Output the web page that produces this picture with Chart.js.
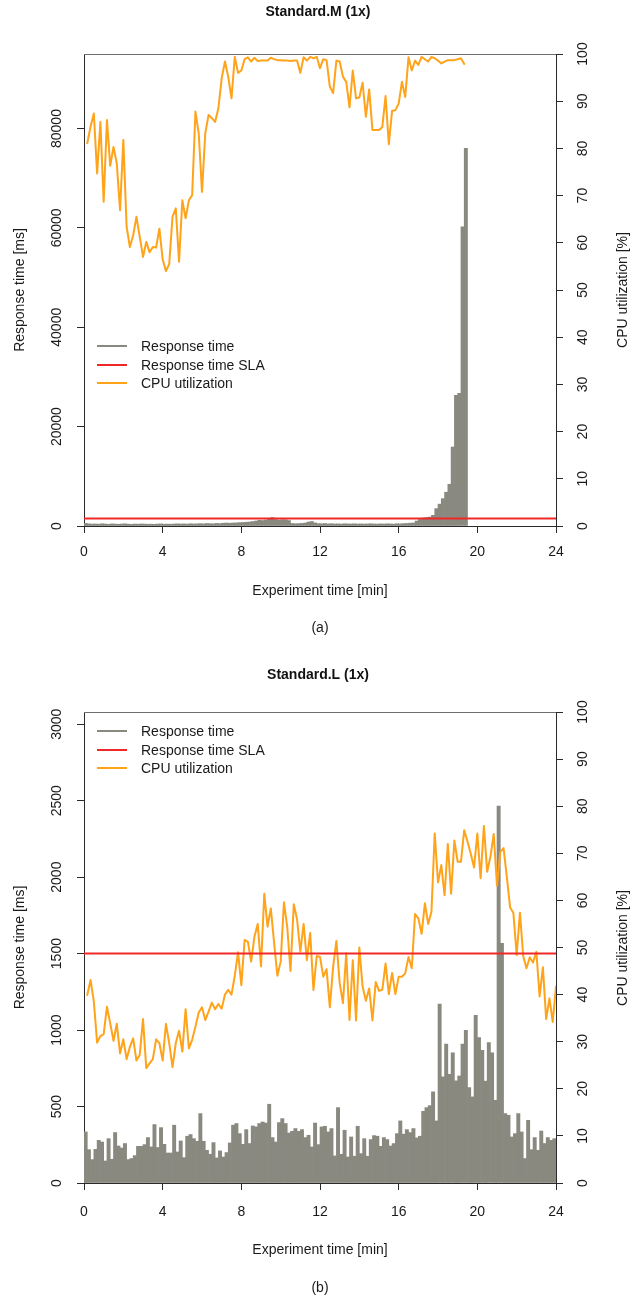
<!DOCTYPE html>
<html><head><meta charset="utf-8">
<script src="https://cdn.jsdelivr.net/npm/chart.js@4/dist/chart.umd.min.js"></script>
<style>
body{margin:0;background:#fff;}
#wrap{position:relative;width:636px;height:1295px;font-family:"Liberation Sans",Arial,Helvetica,sans-serif;color:#1a1a1a;overflow:hidden;}
canvas{position:absolute;left:0;}
.t{position:absolute;font-size:14px;line-height:16px;white-space:nowrap;}
.ln{position:absolute;height:2px;}
</style></head><body>
<div id="wrap">
<canvas id="cA" width="636" height="648" style="top:0px"></canvas>
<canvas id="cB" width="636" height="647" style="top:648px"></canvas>
</div>
<script>
// ---------- data ----------
const sampleSec = 10;                 // one sample every 10 s
const xTicks = [0, 4, 8, 12, 16, 20, 24];
const yTicksA = [0, 20000, 40000, 60000, 80000];
const yTicksB = [0, 500, 1000, 1500, 2000, 2500, 3000];
const cpuTicks = [0, 10, 20, 30, 40, 50, 60, 70, 80, 90, 100];
const slaMs = 1500;
const legendLabels = ['Response time', 'Response time SLA', 'CPU utilization'];
const titles = ['Standard.M (1x)', 'Standard.L (1x)'];
const captions = ['(a)', '(b)'];

// Standard.M : response time [ms] per 10 s interval
const respA = [
 520,430,380,410,360,450,400,330,420,380,
 350,400,440,370,330,390,360,410,380,350,
 370,340,390,420,360,380,350,400,430,390,
 420,380,450,400,430,470,420,500,460,440,
 520,480,560,600,
 550,600,620,680,700,750,800,900,1000,1150,1100,1200,1350,1700,1300,1200,1250,1250,1100,
 500,450,480,520,600,800,900,620,480,450,
 500,420,460,400,430,380,450,420,400,440,390,420,380,410,450,400,380,420,390,440,410,380,450,420,480,500,560,600,
 1000,1300,1600,1700,1800,2150,3500,4400,5500,6800,8400,15900,26300,26700,60200,76000
];
// Standard.M : CPU utilization [%]
const cpuA = [
 81.1,84.6,87.4,74.7,85.6,68.7,86,76.3,80.3,76.8,
 66.9,81.8,63.4,59.1,61.6,65.5,61.3,57,60.2,58,
 59.1,59,63,56.5,54,55.5,65.5,67.3,56,69,
 65.2,69,70.1,87.8,83.2,70.8,83.2,87.1,86.4,85.6,
 88.5,94.8,98.4,95.2,90.6,99.4,96,96.5,98.9,99.3,
 98.4,99.2,98.5,98.6,98.6,98.6,99.2,98.9,98.7,98.7,
 98.6,98.6,98.5,98.6,98.6,96,99.3,98.6,99.4,99.1,
 99.4,97,98.9,98.7,93.1,91.7,98.6,98.4,95.2,94.1,
 88.7,96.5,90.6,90.8,93.9,86.7,92.5,83.9,83.9,83.9,
 84.5,91.1,80.9,88,88.1,89.5,94.1,90.9,99.3,96.5,
 98.6,97.7,99.4,98.9,98.4,99.4,99.1,98.6,98,98.4,
 98.7,98.7,98.7,98.9,99.1,97.9
];
// Standard.L : response time [ms]
const respB = [
 334,218,153,220,279,268,144,290,155,330,
 242,229,258,153,160,179,240,240,251,297,
 236,382,232,362,253,196,196,378,203,275,
 166,306,317,290,273,454,273,214,188,264,
 164,210,170,199,262,378,389,323,253,349,
 258,373,367,389,399,392,515,297,268,395,
 421,389,327,338,356,338,349,297,312,236,
 392,
 251,367,371,334,356,177,493,188,345,170,
 301,175,371,192,290,175,284,310,306,240,
 297,284,242,258,323,406,319,349,330,356,
 295,306,469,493,506,596,406,
 1170,694,908,711,851,668,700,908,999,624,
 563,1096,951,868,666,919,851,541,2465,1567,
 454,443,301,323,454,334,160,410,218,297,
 214,340,258,297,279,290
];
// Standard.L : CPU utilization [%]
const cpuB = [
 39.9,43.1,38.5,29.8,31.2,31.6,37.4,33.9,30.2,33.8,
 27.5,30.5,26.3,28.9,30.7,26,27.2,34.8,24.4,25.4,
 26.3,30.5,29.7,26,33.8,29.7,24.6,29.7,32.3,27.9,
 36.9,28.6,30.4,33.2,36.2,37.3,34.6,36.4,38.3,36.9,
 38,37,40,41,40,44,49,42,51.6,51.2,
 47,52.3,55,46,61.4,54.4,58.3,51,44,47,
 59.6,54.4,45,59.2,56,49.1,55,47.3,53.1,41,
 48.2,48,43.8,45.4,37.3,45.9,51.4,42.5,38.2,48.8,
 34.6,47.3,34.5,50,41.7,38.7,41.3,34.5,42.7,40.8,
 41,46.6,40.1,44.6,40.1,43.8,43.8,44.5,48,45.6,
 57.1,56.2,52.9,59.4,55,57.6,74.2,63.8,67.5,61.1,
 72,61.4,72.7,68.2,68.2,74.9,72.5,69.9,67,74.2,
 64.7,75.8,66.1,69.3,74.1,63.1,70.3,71.1,65,58.5,
 57.3,48.4,57.4,48.2,45.6,47.9,46.8,49.1,39.6,45.8,
 34.8,39.2,34.2,41.7
];

// ---------- styles ----------
const FONT = '"Liberation Sans", Arial, Helvetica, sans-serif';
const TXT = '#1a1a1a';
const AX = '#2a2a2a';
const GRAY = '#898980';
const RED = '#f02828';
const ORANGE = '#ffa31a';
const COLORS = [GRAY, RED, ORANGE];

const boxPlugin = {
  id: 'topBox',
  beforeDatasetsDraw(chart) {
    const a = chart.chartArea, c = chart.ctx;
    c.save(); c.strokeStyle = '#6e6e6e'; c.lineWidth = 1;
    c.beginPath(); c.moveTo(a.left, Math.floor(a.top) + 0.5); c.lineTo(a.right, Math.floor(a.top) + 0.5); c.stroke();
    c.restore();
  }
};

function tickAxis(extra) {
  return Object.assign({
    grid: {display: true, drawOnChartArea: false, drawTicks: true, tickLength: 7, color: AX, offset: false},
    border: {display: true, color: AX, width: 1}
  }, extra);
}

function build(id, cfg) {
  const toMin = s => s * sampleSec / 60;
  const bars = cfg.resp.map((v, j) => ({x: toMin(j + 0.5), y: v}));
  const cpu = cfg.cpu.map((v, i) => ({x: toMin(i + 1), y: v}));
  const f = {family: FONT, size: 14};
  new Chart(document.getElementById(id), {
    type: 'bar',
    data: {datasets: [
      {type: 'line', label: legendLabels[1], data: [{x: xTicks[0], y: slaMs}, {x: xTicks[xTicks.length - 1], y: slaMs}],
       borderColor: RED, borderWidth: 2, pointRadius: 0, yAxisID: 'y', order: 0},
      {type: 'line', label: legendLabels[2], data: cpu, borderColor: ORANGE, borderWidth: 2, pointRadius: 0,
       tension: 0, borderJoinStyle: 'round', borderCapStyle: 'round', yAxisID: 'y1', order: 1},
      {type: 'bar', label: legendLabels[0], data: bars, backgroundColor: GRAY, borderWidth: 0,
       barPercentage: 1, categoryPercentage: 1, yAxisID: 'y', order: 2}
    ]},
    options: {
      responsive: false, animation: false, devicePixelRatio: 1,
      layout: {padding: 0},
      plugins: {
        legend: {display: false}, tooltip: {enabled: false},
        title: {display: true, text: cfg.title, color: '#111', font: {family: FONT, size: 14, weight: 'bold'},
                padding: {top: cfg.tTop, bottom: cfg.tBot}}
      },
      scales: {
        x: tickAxis({type: 'linear', position: 'bottom', min: 0, max: 24, offset: false,
          afterBuildTicks: s => { s.ticks = xTicks.map(v => ({value: v})); },
          afterFit: s => { s.height = cfg.xH; s.paddingLeft = 0; s.paddingRight = 0; },
          ticks: {font: f, color: TXT, padding: cfg.xPad, maxRotation: 0, minRotation: 0, autoSkip: false, callback: v => String(v)},
          title: {display: true, text: 'Experiment time [min]', font: f, color: TXT, padding: {top: 0, bottom: cfg.xTitleBot}}}),
        y: tickAxis({type: 'linear', position: 'left', min: 0, max: cfg.yMax,
          afterBuildTicks: s => { s.ticks = cfg.yTicks.map(v => ({value: v})); },
          afterFit: s => { s.width = 84; s.paddingTop = 0; s.paddingBottom = 0; },
          ticks: {font: f, color: TXT, padding: cfg.yPad, minRotation: 90, maxRotation: 90, crossAlign: 'center', autoSkip: false, callback: v => String(v)},
          title: {display: true, text: 'Response time [ms]', font: f, color: TXT, padding: {top: 11.6, bottom: 0}}}),
        y1: tickAxis({type: 'linear', position: 'right', min: 0, max: 100,
          afterBuildTicks: s => { s.ticks = cpuTicks.map(v => ({value: v})); },
          afterFit: s => { s.width = 80; s.paddingTop = 0; s.paddingBottom = 0; },
          ticks: {font: f, color: TXT, padding: 8.6, minRotation: 90, maxRotation: 90, crossAlign: 'center', autoSkip: false, callback: v => String(v)},
          title: {display: false}})
      }
    },
    plugins: [boxPlugin]
  });
}

build('cA', {title: titles[0], resp: respA, cpu: cpuA, yMax: 95000, yTicks: yTicksA,
  tTop: 3.6, tBot: 33.6, xH: 122, xPad: 10.6, xTitleBot: 48.6, yPad: 0.5});
build('cB', {title: titles[1], resp: respB, cpu: cpuB, yMax: 3080, yTicks: yTicksB,
  tTop: 18.6, tBot: 28.6, xH: 112, xPad: 13.6, xTitleBot: 36.6, yPad: 4.4});

// ---------- HTML text overlays: legend, right axis title, captions ----------
const wrap = document.getElementById('wrap');
function add(cls, css, text) {
  const d = document.createElement('div'); d.className = cls; Object.assign(d.style, css);
  if (text) d.textContent = text; wrap.appendChild(d); return d;
}
[346, 731].forEach(top => {
  legendLabels.forEach((lab, k) => {
    const y = top + k * 18.6;
    add('ln', {left: '97px', width: '30px', top: (y - 1) + 'px', background: COLORS[k]});
    add('t', {left: '141px', top: (y - 8) + 'px'}, lab);
  });
});
[290, 948].forEach(cy => {
  add('t', {left: '622px', top: cy + 'px', transform: 'translate(-50%,-50%) rotate(-90deg)'}, 'CPU utilization [%]');
});
[[627, 0], [1287, 1]].forEach(([cy, k]) => {
  add('t', {left: '320px', top: cy + 'px', transform: 'translate(-50%,-50%)'}, captions[k]);
});
</script>
</body></html>
